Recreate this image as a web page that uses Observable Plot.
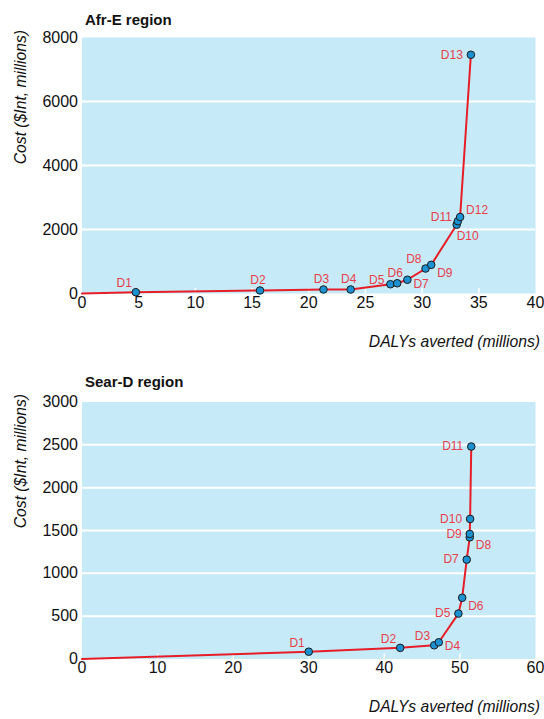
<!DOCTYPE html>
<html>
<head>
<meta charset="utf-8">
<script src="https://cdn.jsdelivr.net/npm/d3@7"></script>
<script src="https://cdn.jsdelivr.net/npm/@observablehq/plot@0.6"></script>
<style>
  html, body { margin: 0; padding: 0; background: #fff; }
  #wrap { position: relative; width: 544px; height: 719px; overflow: hidden;
          font-family: 'Liberation Sans', Arial, sans-serif; color: #111; }
  .abs { position: absolute; white-space: nowrap; }
  .title { font-weight: bold; font-size: 15px; line-height: 16px; }
  .xt { font-style: italic; font-size: 15.7px; line-height: 17px; right: 4px; }
  .yt { font-style: italic; font-size: 15.7px; line-height: 17px; width: 200px; text-align: right;
        transform: rotate(-90deg); transform-origin: left top; }
</style>
</head>
<body>
<div id="wrap">
  <div class="abs title" style="left:85px; top:12px;">Afr-E region</div>
  <div class="abs yt" style="left:12px; top:230px;">Cost ($Int, millions)</div>
  <div class="abs xt" style="top:333px;">DALYs averted (millions)</div>
  <div class="abs title" style="left:85px; top:374px;">Sear-D region</div>
  <div class="abs yt" style="left:12px; top:594px;">Cost ($Int, millions)</div>
  <div class="abs xt" style="top:698px;">DALYs averted (millions)</div>
</div>
<script>
// ---- Data ----
const afrLabels = ["D1","D2","D3","D4","D5","D6","D7","D8","D9","D10","D11","D12","D13"];
const afrDalys  = [4.75, 15.7, 21.3, 23.7, 27.2, 27.8, 28.7, 30.3, 30.8, 33.05, 33.15, 33.35, 34.3];
const afrCost   = [40, 95, 125, 125, 290, 320, 430, 780, 895, 2150, 2260, 2390, 7460];
const afrLabelPos = ["nw","n","n","n","wnw","n","e","nw","se","s","wnw","ne","w"];
const afrXTicks = [0, 5, 10, 15, 20, 25, 30, 35, 40];
const afrYTicks = [0, 2000, 4000, 6000, 8000];

const searLabels = ["D1","D2","D3","D4","D5","D6","D7","D8","D9","D10","D11"];
const searDalys  = [30.0, 42.1, 46.6, 47.2, 49.8, 50.3, 50.9, 51.3, 51.3, 51.35, 51.5];
const searCost   = [85, 130, 160, 195, 530, 715, 1160, 1420, 1460, 1635, 2480];
const searLabelPos = ["nw","nw","nw","e","w","se","w","se","w","w","w"];
const searXTicks = [0, 10, 20, 30, 40, 50, 60];
const searYTicks = [0, 500, 1000, 1500, 2000, 2500, 3000];

const origin = {x: 0, y: 0};

// label placement codes -> offsets
const place = {
  nw:  {dx: -4, dy: -9, a: "end"},
  n:   {dx: -2, dy: -10, a: "middle"},
  w:   {dx: -8, dy: 0, a: "end"},
  wnw: {dx: -6, dy: -4, a: "end"},
  e:   {dx: 6, dy: 4, a: "start"},
  se:  {dx: 6, dy: 8, a: "start"},
  s:   {dx: 0, dy: 11, a: "start"},
  ne:  {dx: 6, dy: -7, a: "start"}
};

const FONT = "'Liberation Sans', Arial, sans-serif";
const PANEL = "#c7eaf9", RED = "#e61e28", LABRED = "#e8404a", DOT = "#1b91d1";

function chart({labels, dalys, cost, pos, xTicks, yTicks, top, height, mTop, mBottom}) {
  const pts = labels.map((l, i) => ({label: l, x: dalys[i], y: cost[i], code: pos[i]}));
  const linePts = [origin, ...pts];
  const innerH = height - mTop - mBottom;
  const inner = xTicks.slice(1, -1);
  const grid = yTicks.slice(1, -1);
  const textMarks = Object.keys(place).map(k =>
    Plot.text(pts.filter(d => d.code === k), {
      x: "x", y: "y", text: "label", dx: place[k].dx, dy: place[k].dy,
      textAnchor: place[k].a, fill: LABRED, fontSize: 12
    })
  );
  const svg = Plot.plot({
    width: 544, height,
    marginTop: mTop, marginBottom: mBottom, marginLeft: 81.5, marginRight: 9,
    style: {fontFamily: FONT, fontSize: "16px", color: "#111", background: "transparent", overflow: "visible"},
    x: {domain: [xTicks[0], xTicks[xTicks.length - 1]]},
    y: {domain: [yTicks[0], yTicks[yTicks.length - 1]]},
    marks: [
      Plot.frame({fill: PANEL, stroke: null}),
      Plot.ruleY(grid, {stroke: "#fff", strokeWidth: 2}),
      Plot.ruleX(inner, {stroke: "#fff", strokeWidth: 1.5, insetTop: innerH - 5}),
      Plot.axisX(xTicks, {tickSize: 0, tickPadding: 3, label: null, fontSize: 16, tickFormat: d => String(d)}),
      Plot.axisY(yTicks, {tickSize: 0, tickPadding: 4, label: null, fontSize: 16, tickFormat: d => String(d)}),
      Plot.line(linePts, {x: "x", y: "y", stroke: RED, strokeWidth: 2}),
      Plot.dot(pts, {x: "x", y: "y", r: 3.8, fill: DOT, stroke: "#1a1a1a", strokeWidth: 1}),
      ...textMarks
    ]
  });
  svg.style.position = "absolute";
  svg.style.left = "0px";
  svg.style.top = top + "px";
  return svg;
}

const wrap = document.getElementById("wrap");
wrap.appendChild(chart({labels: afrLabels, dalys: afrDalys, cost: afrCost, pos: afrLabelPos,
  xTicks: afrXTicks, yTicks: afrYTicks, top: 0, height: 360, mTop: 37, mBottom: 67}));
wrap.appendChild(chart({labels: searLabels, dalys: searDalys, cost: searCost, pos: searLabelPos,
  xTicks: searXTicks, yTicks: searYTicks, top: 360, height: 359, mTop: 41.5, mBottom: 60.5}));
</script>
</body>
</html>
